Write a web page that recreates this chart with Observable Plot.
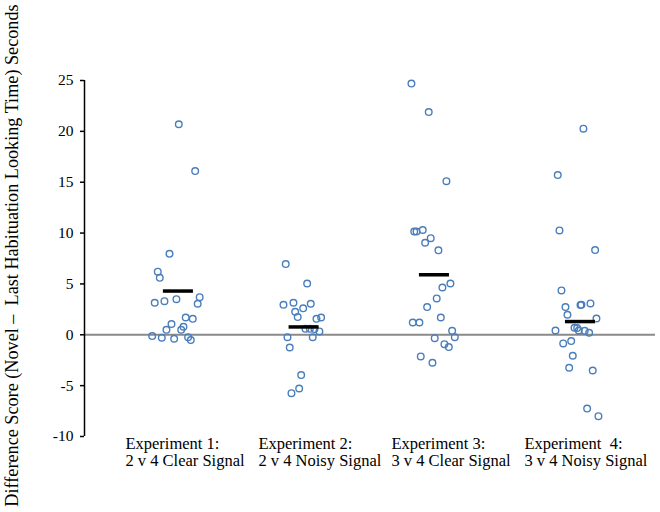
<!DOCTYPE html>
<html>
<head>
<meta charset="utf-8">
<script src="https://cdn.jsdelivr.net/npm/d3@7"></script>
<script src="https://cdn.jsdelivr.net/npm/@observablehq/plot@0.6"></script>
<style>
  html, body { margin: 0; padding: 0; background: #fff; }
  #chart svg { display: block; }
</style>
</head>
<body>
<div id="chart"></div>
<script>
const categories = [
  "Experiment 1:\n2 v 4 Clear Signal",
  "Experiment 2:\n2 v 4 Noisy Signal",
  "Experiment 3:\n3 v 4 Clear Signal",
  "Experiment  4:\n3 v 4 Noisy Signal"
];
const yTicks = [-10, -5, 0, 5, 10, 15, 20, 25];
const yLabel = "Difference Score (Novel \u2013  Last Habituation Looking Time) Seconds";

// Difference scores per experiment
const exp1Values = [20.7, 16.1, 7.96, 6.2, 5.6, 3.7, 3.5, 3.3, 3.15, 3.05, 1.7, 1.57, 1.05, 0.79, 0.49, 0.49, -0.13, -0.29, -0.39, -0.23, -0.52];
const exp2Values = [6.95, 5.04, 2.95, 3.15, 3.05, 2.6, 2.26, 1.74, 1.57, 1.7, 0.59, 0.59, 0.56, 0.33, -0.23, -0.23, -1.25, -3.96, -5.28, -5.74];
const exp3Values = [24.7, 21.9, 15.1, 10.15, 10.15, 10.3, 9.5, 9.05, 8.3, 5.04, 4.65, 3.57, 2.72, 1.7, 1.21, 1.21, 0.39, -0.23, -0.33, -0.92, -1.21, -2.13, -2.75];
const exp4Values = [20.26, 15.7, 10.26, 8.33, 4.36, 2.72, 2.92, 2.95, 3.08, 1.97, 1.6, 0.42, 0.69, 0.66, 0.42, 0.39, 0.2, -0.62, -0.85, -2.06, -3.24, -3.51, -7.25, -8.0];

// Horizontal jitter of each point (in category units)
const exp1Jitter = [-0.065, 0.058, -0.135, -0.223, -0.208, 0.092, -0.083, -0.173, -0.246, 0.077, -0.013, 0.040, -0.120, -0.030, -0.158, -0.047, -0.265, -0.193, -0.100, 0.005, 0.025];
const exp2Jitter = [-0.261, -0.100, -0.278, -0.203, -0.073, -0.130, -0.190, -0.171, -0.030, 0.005, -0.113, -0.080, -0.045, -0.008, -0.248, -0.058, -0.231, -0.145, -0.160, -0.218];
const exp3Jitter = [-0.316, -0.186, -0.053, -0.295, -0.278, -0.231, -0.171, -0.213, -0.113, -0.023, -0.083, -0.126, -0.198, -0.095, -0.306, -0.256, -0.010, 0.010, -0.141, -0.068, -0.035, -0.246, -0.158];
const exp4Jitter = [-0.023, -0.216, -0.203, 0.065, -0.188, -0.158, -0.045, -0.038, 0.030, -0.143, 0.075, -0.233, -0.090, -0.070, -0.058, -0.013, 0.020, -0.115, -0.175, -0.103, -0.130, 0.047, 0.005, 0.090];

// Group means and the horizontal offset of the mean bar
const means = [4.3, 0.77, 5.9, 1.3];
const meanOffset = [-0.068, -0.123, -0.143, -0.045];

const allValues = [exp1Values, exp2Values, exp3Values, exp4Values];
const allJitter = [exp1Jitter, exp2Jitter, exp3Jitter, exp4Jitter];

const points = [];
allValues.forEach((vals, g) => {
  vals.forEach((v, i) => points.push({x: g + 1 + allJitter[g][i], y: v}));
});
const meanRows = means.map((m, g) => ({x: g + 1 + meanOffset[g], y: m}));
const halfBar = 0.113;

const serif = "Liberation Serif, Times New Roman, serif";
const xDomain = [0.226, 4.519];

const chart = Plot.plot({
  width: 660,
  height: 512,
  marginLeft: 84,
  marginRight: 5,
  marginTop: 80,
  marginBottom: 76,
  style: {fontFamily: serif, fontSize: "15px", color: "#000", background: "#fff"},
  x: {type: "linear", domain: xDomain},
  y: {domain: [-10, 25]},
  marks: [
    Plot.ruleY([0], {stroke: "#8a8a8a", strokeWidth: 2}),
    Plot.ruleX([xDomain[0]], {y1: -10, y2: 25, stroke: "#000", strokeWidth: 1.5}),
    Plot.axisY({ticks: yTicks, tickSize: 4, tickPadding: 7, tickFormat: d => String(d), label: null, fontSize: 15.5, fontFamily: serif, strokeWidth: 1.5}),
    Plot.axisX({ticks: [1, 2, 3, 4], tickFormat: d => categories[d - 1], tickSize: 0, textAnchor: "start", dx: -62, dy: -9, lineHeight: 1.06, label: null, fontSize: 16.5, fontFamily: serif}),
    Plot.dot(points, {x: "x", y: "y", r: 3.3, stroke: "#4a7ebb", strokeWidth: 1.4, fill: "none"}),
    Plot.ruleY(meanRows, {y: "y", x1: d => d.x - halfBar, x2: d => d.x + halfBar, stroke: "#000", strokeWidth: 3.5}),
    Plot.text([yLabel], {frameAnchor: "left", textAnchor: "middle", rotate: -90, dx: -72, dy: -3, fontSize: 18.2, fontFamily: serif, fill: "#000"})
  ]
});
document.getElementById("chart").appendChild(chart);
</script>
</body>
</html>
